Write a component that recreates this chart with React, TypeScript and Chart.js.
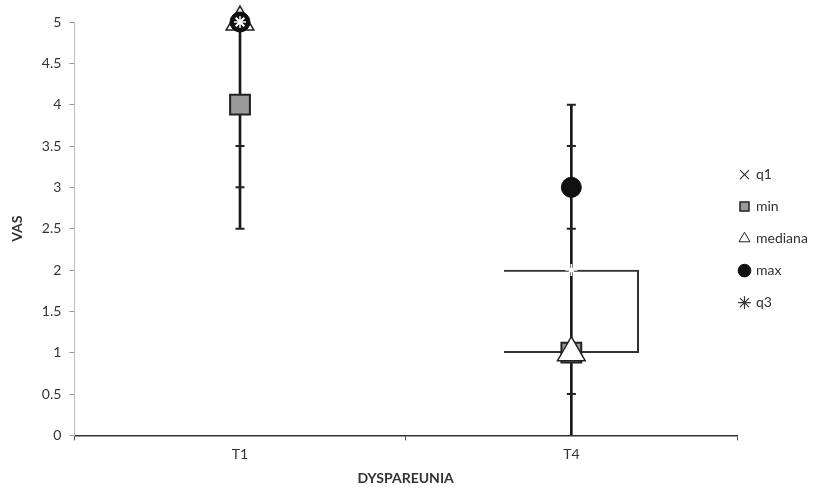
import React, { useEffect, useRef } from 'react';
import { Chart, registerables } from 'chart.js';

Chart.register(...registerables);

const categories = ['T1', 'T4'];
const q1Values = [5, 1];
const minValues = [4, 1];
const medianaValues = [5, 1];
const maxValues = [5, 3];
const q3Values = [5, 2];
const whiskerRanges: [number, number][] = [[2.5, 5], [0, 4]];
const boxRanges: ([number, number] | null)[] = [null, [1, 2]];
const whiskerTicksT1 = [2.5, 3, 3.5];
const whiskerTicksT4 = [0.5, 2.5, 3.5, 4];
const yTickValues = [0, 0.5, 1, 1.5, 2, 2.5, 3, 3.5, 4, 4.5, 5];

const FONT = 'Lato, "Open Sans", sans-serif';

const legendShift = {
  id: 'legendShift',
  beforeDraw(chart: any) {
    const lg = chart.legend;
    if (lg) {
      const w = lg.width;
      lg.left = chart.chartArea.right - 15;
      lg.right = lg.left + w;
    }
  },
};

export default function App() {
  const ref = useRef<HTMLCanvasElement | null>(null);
  useEffect(() => {
    if (!ref.current) return;
    const tickPts = [
      ...whiskerTicksT1.map((v) => ({ x: categories[0], y: v })),
      ...whiskerTicksT4.map((v) => ({ x: categories[1], y: v })),
    ];
    const chart = new Chart(ref.current, {
      plugins: [legendShift],
      data: {
        labels: categories,
        datasets: [
          {
            type: 'line',
            label: 'q1',
            data: q1Values,
            showLine: false,
            clip: false,
            pointStyle: 'crossRot',
            pointRadius: 6,
            borderColor: '#ffffff',
            backgroundColor: '#ffffff',
            pointBorderWidth: 2,
            order: 1,
          } as any,
          {
            type: 'line',
            label: 'min',
            data: minValues,
            showLine: false,
            clip: false,
            pointStyle: 'rect',
            pointRadius: 14,
            borderColor: '#222222',
            backgroundColor: '#9a9a9a',
            pointBorderWidth: 2,
            order: 6,
          } as any,
          {
            type: 'line',
            label: 'mediana',
            data: medianaValues,
            showLine: false,
            clip: false,
            pointStyle: 'triangle',
            pointRadius: 16,
            borderColor: '#222222',
            backgroundColor: '#ffffff',
            pointBorderWidth: 1.5,
            order: 5,
          } as any,
          {
            type: 'line',
            label: 'max',
            data: maxValues,
            showLine: false,
            clip: false,
            pointStyle: 'circle',
            pointRadius: 10,
            borderColor: '#111111',
            backgroundColor: '#111111',
            pointBorderWidth: 1,
            order: 3,
          } as any,
          {
            type: 'line',
            label: 'q3',
            data: q3Values,
            showLine: false,
            clip: false,
            pointStyle: 'star',
            pointRadius: 6,
            borderColor: '#ffffff',
            backgroundColor: '#ffffff',
            pointBorderWidth: 1.5,
            order: 1,
          } as any,
          {
            type: 'bar',
            label: '_whisker',
            data: whiskerRanges,
            backgroundColor: '#1a1a1a',
            borderWidth: 0,
            barThickness: 2,
            grouped: false,
            order: 10,
          } as any,
          {
            type: 'bar',
            label: '_box',
            data: boxRanges,
            backgroundColor: 'rgba(0,0,0,0)',
            borderColor: '#333333',
            borderWidth: 1.5,
            borderSkipped: 'left',
            barThickness: 135,
            grouped: false,
            order: 9,
          } as any,
          {
            type: 'line',
            label: '_ticks',
            data: tickPts,
            showLine: false,
            pointStyle: 'line',
            pointRadius: 4.5,
            borderColor: '#222222',
            pointBorderWidth: 2,
            order: 8,
          } as any,
        ],
      },
      options: {
        animation: false,
        responsive: false,
        maintainAspectRatio: false,
        layout: { padding: { left: 9, top: 22, right: 0, bottom: 2 } },
        plugins: {
          tooltip: { enabled: false },
          legend: {
            position: 'right',
            align: 'start',
            maxWidth: 90,
            title: {
              display: true,
              text: ' ',
              font: { family: FONT, size: 13 },
              padding: { top: 0, bottom: 112 },
            },
            labels: {
              usePointStyle: true,
              boxWidth: 9,
              boxHeight: 9,
              padding: 18,
              color: '#333333',
              font: { family: FONT, size: 14 },
              filter: (item: any) => !String(item.text).startsWith('_'),
              sort: (a: any, b: any) => a.datasetIndex - b.datasetIndex,
              generateLabels: (chart: any) => {
                const labels = Chart.defaults.plugins.legend.labels.generateLabels(chart);
                labels.forEach((l: any) => {
                  if (l.text === 'q1' || l.text === 'q3') {
                    l.strokeStyle = '#333333';
                    l.fillStyle = '#333333';
                    l.lineWidth = 1.2;
                  }
                  if (l.text === 'mediana') l.lineWidth = 1;
                  if (l.text === 'min') l.lineWidth = 1.5;
                });
                return labels;
              },
            },
          },
        },
        scales: {
          x: {
            type: 'category',
            offset: true,
            grid: {
              offset: true,
              drawOnChartArea: false,
              drawTicks: true,
              tickLength: 5,
              color: '#444444',
            },
            border: { color: '#333333', width: 1.5 },
            ticks: { color: '#333333', font: { family: FONT, size: 14 }, padding: 6 },
            title: {
              display: true,
              text: 'DYSPAREUNIA',
              color: '#333333',
              font: { family: FONT, size: 14, weight: 'bold' },
              padding: { top: 1, bottom: 0 },
            },
          },
          y: {
            type: 'linear',
            min: 0,
            max: 5,
            afterBuildTicks: (axis: any) => {
              axis.ticks = yTickValues.map((v) => ({ value: v }));
            },
            grid: {
              drawOnChartArea: false,
              drawTicks: true,
              tickLength: 5,
              color: '#9a9a9a',
            },
            border: { color: '#bdbdbd', width: 1 },
            ticks: {
              color: '#333333',
              font: { family: FONT, size: 14 },
              padding: 8,
              callback: (v: any) => String(v),
            },
            title: {
              display: true,
              text: 'VAS',
              color: '#333333',
              font: { family: FONT, size: 14, weight: 'bold' },
              padding: { top: 0, bottom: 8 },
            },
          },
        },
      },
    } as any);
    return () => chart.destroy();
  }, []);
  return (
    <div style={{ position: 'fixed', left: 0, top: 0, width: 827, height: 489, background: '#fff' }}>
      <canvas ref={ref} width={827} height={489} style={{ width: 827, height: 489 }} />
    </div>
  );
}
